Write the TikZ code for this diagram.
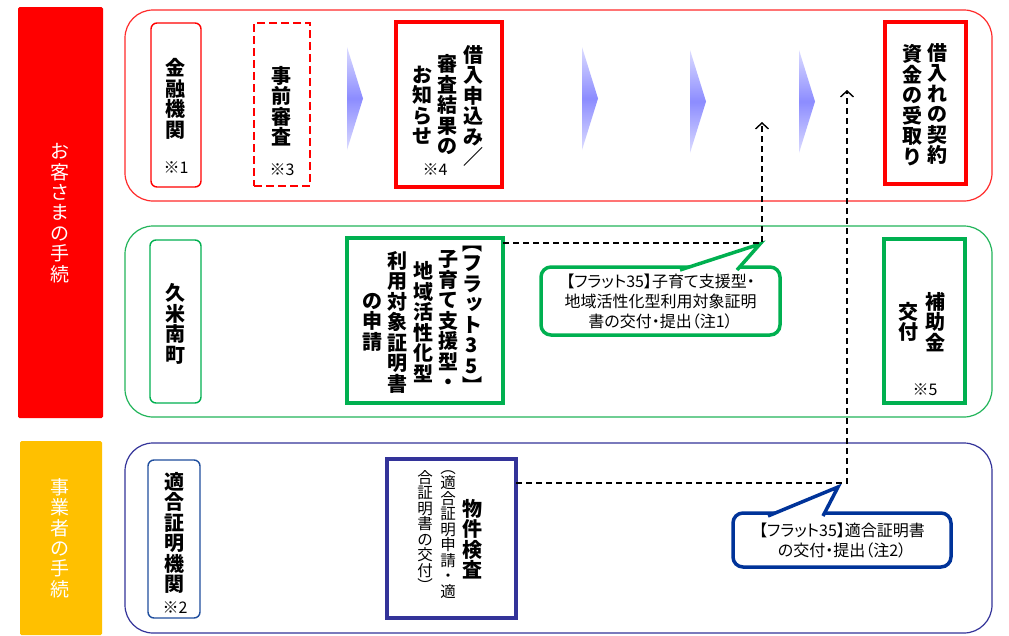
\documentclass[tikz,border=0pt]{standalone}
\usepackage{fontspec}
\setmainfont{Noto Sans CJK JP}
\newfontfamily\jpp{Noto Sans CJK JP}[RawFeature=+palt]
\usetikzlibrary{arrows.meta}
\definecolor{lred}{HTML}{FF0000}
\definecolor{lanered}{HTML}{FF2A2A}
\definecolor{lgreen}{HTML}{00B050}
\definecolor{lanegreen}{HTML}{22B45A}
\definecolor{lnavy}{HTML}{333399}
\definecolor{lblue}{HTML}{1F4E9E}
\definecolor{cblue}{HTML}{003399}
\definecolor{lyellow}{HTML}{FFC000}
\definecolor{chevd}{HTML}{8C8CFF}
\definecolor{chevl}{HTML}{DCDCFF}
\makeatletter
\let\vt@end\relax
\def\vt@endm{\vt@end}
\newcommand\vtxt[1]{\vbox{\lineskiplimit=-1000pt\lineskip=0pt\vt@loop#1\vt@end}}
\def\vt@loop#1{\def\vt@tmp{#1}\ifx\vt@tmp\vt@endm\else\hbox to 1em{\hss#1\hss}\expandafter\vt@loop\fi}
\makeatother
\newcommand\skn[1]{\raisebox{0.12em}{\kern0.24em#1}}
\tikzset{
 lane/.style={draw=#1, line width=1.2pt, rounded corners=28pt, inner sep=0pt, outer sep=0pt},
 thinbox/.style={draw=#1, line width=1.4pt, rounded corners=6pt, inner sep=0pt, outer sep=0pt},
 thickbox/.style={draw=#1, line width=4pt, inner sep=0pt, outer sep=0pt},
 sidebar/.style={fill=#1, rounded corners=1.5pt, inner sep=0pt, outer sep=0pt},
 vb/.style={inner sep=0pt, font=\fontsize{20}{20.5}\selectfont\bfseries},
 vn/.style={inner sep=0pt, font=\fontsize{15.5}{15.5}\selectfont},
 vw/.style={inner sep=0pt, text=white, font=\fontsize{19}{20.4}\selectfont},
 notemark/.style={inner sep=0pt, font=\fontsize{16}{16}\selectfont},
 callbox/.style={draw=#1, line width=3.5pt, rounded corners=10pt, fill=white, inner sep=0pt, align=center, font=\jpp\fontsize{16}{20}\selectfont},
 pointer/.style={fill=white, draw=#1, line width=3.5pt, line join=miter},
 dashline/.style={draw=black, line width=1.4pt, dash pattern=on 6pt off 4pt, -{Straight Barb[length=6pt,width=13pt]}},
 chev/.style={top color=chevl, bottom color=chevl, middle color=chevd},
}
\begin{document}
\begin{tikzpicture}[x=1pt,y=-1pt]
\useasboundingbox (0,0) rectangle (1009,635);
\fill[white] (0,0) rectangle (1009,635);
% side bars
\node[sidebar=lred, minimum width=85, minimum height=411] (bar1) at (60.5,212.5) {};
\node[sidebar=lyellow, minimum width=82, minimum height=194] (bar2) at (61,538) {};
\node[vw] (tokyaku) at (60,213) {\vtxt{お客さまの手続}};
\node[vw] (tjigyo) at (60,538) {\vtxt{事業者の手続}};
% lanes
\node[lane=lanered, minimum width=867, minimum height=191] (lane1) at (558.5,105.5) {};
\node[lane=lanegreen, minimum width=867, minimum height=191] (lane2) at (558.5,321.5) {};
\node[lane=lnavy, minimum width=867, minimum height=190] (lane3) at (558.5,538) {};
% top row
\node[thinbox=lred, minimum width=50, minimum height=164] (kinyu) at (176,105) {};
\node[vb] (tkinyu) at (175,99) {\vtxt{金融機関}};
\node[notemark] (n1) at (176,168) {※1};
\node[draw=lred, line width=2.5pt, dash pattern=on 8pt off 4pt, inner sep=0pt, minimum width=56, minimum height=163] (jizen) at (282,104.5) {};
\node[vb] (tjizen) at (281,106) {\vtxt{事前審査}};
\node[notemark] (n3) at (282,170) {※3};
\node[thickbox=lred, minimum width=106, minimum height=165] (kariire) at (449,104.5) {};
\node[vb] (tk1) at (473,106) {\vtxt{借入申込み／}};
\node[vb] (tk2) at (447,105) {\vtxt{審査結果の}};
\node[vb] (tk3) at (422,105) {\vtxt{お知らせ}};
\node[notemark] (n4) at (435,170) {※4};
\node[thickbox=lred, minimum width=81, minimum height=162] (keiyaku) at (925.5,103) {};
\node[vb] (tke1) at (937,104) {\vtxt{借入れの契約}};
\node[vb] (tke2) at (912,105) {\vtxt{資金の受取り}};
% chevrons
\shade[chev] (347,47) -- (363,98.5) -- (347,150) -- cycle;
\shade[chev] (582,47) -- (598,98.5) -- (582,150) -- cycle;
\shade[chev] (690,50) -- (706,101.5) -- (690,153) -- cycle;
\shade[chev] (799,50) -- (815,101.5) -- (799,153) -- cycle;
% middle row
\node[thinbox=lgreen, minimum width=51, minimum height=163] (kume) at (175.5,321.5) {};
\node[vb] (tkume) at (175,324) {\vtxt{久米南町}};
\node[thickbox=lgreen, minimum width=156, minimum height=165] (flat) at (425,320.5) {};
\node[vb] (tf1) at (472,320) {\vtxt{︻フラ{\skn{ッ}}ト35︼}};
\node[vb] (tf2) at (448,320) {\vtxt{子育て支援型・}};
\node[vb] (tf3) at (423,322) {\vtxt{地域活性化型}};
\node[vb] (tf4) at (397,322) {\vtxt{利用対象証明書}};
\node[vb] (tf5) at (372,322) {\vtxt{の申請}};
\node[thickbox=lgreen, minimum width=81, minimum height=164] (hojo) at (924.5,321) {};
\node[vb] (th1) at (935,322) {\vtxt{補助金}};
\node[vb] (th2) at (908,322) {\vtxt{交付}};
\node[notemark] (n5) at (925,390) {※5};
% bottom row
\node[thinbox=lblue, minimum width=52, minimum height=158] (tekigo) at (174,539) {};
\node[vb] (ttekigo) at (174,533) {\vtxt{適合証明機関}};
\node[notemark] (n2) at (175,608) {※2};
\node[draw=lnavy, line width=4.5pt, inner sep=0pt, outer sep=0pt, minimum width=129, minimum height=159] (bukken) at (451.5,538.5) {};
\node[vb] (tb1) at (472,539) {\vtxt{物件検査}};
\node[vn, anchor=north] (tb2) at (448,470) {\vtxt{︵適合証明申請・適}};
\node[vn, anchor=north] (tb3) at (425,470) {\vtxt{合証明書の交付︶}};
% callouts
\node[callbox=lgreen, minimum width=239, minimum height=68] (call1) at (660.5,301) {【フラット35】子育て支援型・\\地域活性化型利用対象証明\\書の交付・提出（注1）};
\coordinate (tip1) at (760,244);
\filldraw[pointer=lgreen] (680,270) -- (tip1) -- (737,270);
\node[callbox=cblue, minimum width=218, minimum height=54] (call2) at (842,540) {【フラット35】適合証明書\\の交付・提出（注2）};
\coordinate (tip2) at (838,487);
\filldraw[pointer=cblue] (768,516) -- (tip2) -- (823,516);
% connectors
\coordinate (up1) at (762,122);
\coordinate (up2) at (847,90);
\draw[dashline] ([yshift=-5pt]flat.north east) -| (up1);
\draw[dashline] ([yshift=-24pt]bukken.north east) -| (up2);
\end{tikzpicture}
\end{document}
